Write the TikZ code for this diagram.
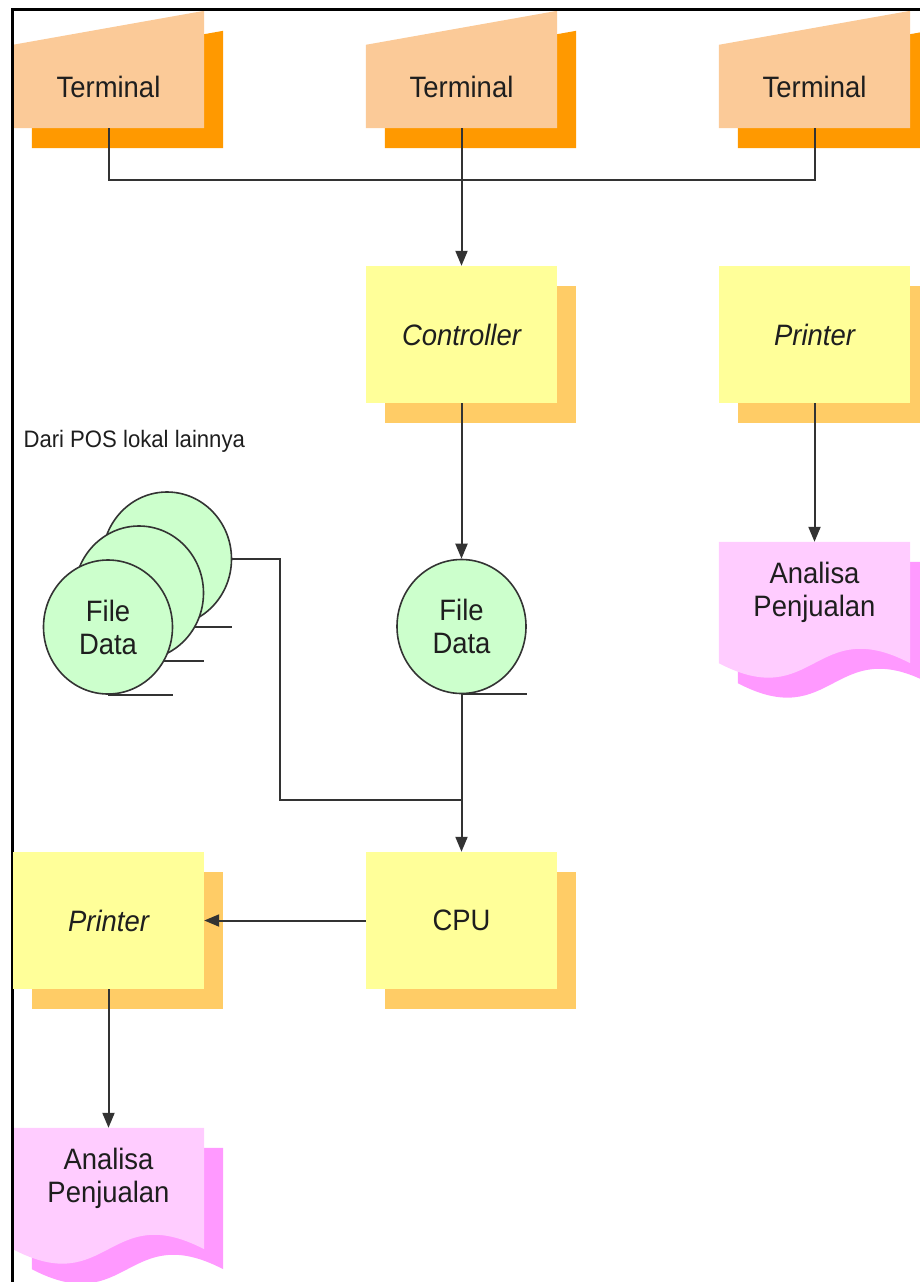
\documentclass[tikz,border=0pt]{standalone}
\usepackage{fontspec}
\setmainfont{Liberation Sans}[FakeStretch=0.93]
\usetikzlibrary{positioning,shapes.geometric,shadows,backgrounds,arrows.meta}

\definecolor{termfill}{HTML}{FBCA98}
\definecolor{termshade}{HTML}{FF9900}
\definecolor{boxfill}{HTML}{FFFF99}
\definecolor{boxshade}{HTML}{FFCC66}
\definecolor{filefill}{HTML}{CCFFCC}
\definecolor{docfill}{HTML}{FFCCFF}
\definecolor{docshade}{HTML}{FF99FF}
\definecolor{ink}{HTML}{1E1E1E}

\begin{document}
\begin{tikzpicture}[x=1pt,y=-1pt,node distance=353pt,on grid,
    font=\fontsize{29.5}{33}\selectfont,text=ink,
    >={Triangle[length=15pt,width=12pt]},
    line/.style={draw=black!80,line width=2pt},
    term/.style={rectangle,minimum width=191pt,minimum height=83pt,inner sep=0pt},
    box/.style={rectangle,fill=boxfill,minimum width=191pt,minimum height=137pt,inner sep=0pt,
      general shadow={shadow xshift=19pt,shadow yshift=-20pt,fill=boxshade}},
    file/.style={ellipse,draw=black!80,line width=1.6pt,fill=filefill,
      minimum width=129pt,minimum height=134pt,inner sep=0pt,align=center},
    doc/.style={rectangle,minimum width=191pt,minimum height=100pt,inner sep=0pt,align=center}]
  \useasboundingbox (0,0) rectangle (920,1282);

  % frame
  \draw[line width=3pt] (12,1290) -- (12,9) -- (930,9);

  \node[term] (term_2) at (461.5,86.5) {Terminal};
  \node[term] (term_1) [left=of term_2] {Terminal};
  \node[term] (term_3) [right=of term_2] {Terminal};
  \node[box] (ctrl) [below=248pt of term_2] {\itshape Controller};
  \node[box] (prn_1) [right=of ctrl] {\itshape Printer};
  \node[doc] (doc_1) [below=257.5pt of prn_1] {Analisa\\Penjualan};
  \node[file] (file_0) [below=292pt of ctrl] {File\\Data};
  \draw[line] (file_0.south) -- (file_0.south -| file_0.east);
  \node[box] (cpu) [below=294pt of file_0] {CPU};
  \node[box] (prn_2) [left=of cpu] {\itshape Printer};
  \node[doc] (doc_2) [below=257.5pt of prn_2] {Analisa\\Penjualan};

  % files coming from the other POS, back to front
  \node[font=\fontsize{23.8}{28}\selectfont,anchor=west] (pos) at (20,441) {Dari POS lokal lainnya};
  \node[file] (file_3) at (167,559) {};
  \draw[line] (file_3.south) -- (file_3.south -| file_3.east);
  \node[file] (file_2) [below left=34pt and 28pt of file_3] {};
  \draw[line] (file_2.south) -- (file_2.south -| file_2.east);
  \node[file] (file_1) [below left=34pt and 31pt of file_2] {File\\Data};
  \draw[line] (file_1.south) -- (file_1.south -| file_1.east);

  % terminal and document outlines, with their shades
  \begin{scope}[on background layer]
    \foreach \n in {term_1,term_2,term_3} {
      \fill[termshade] ([shift={(19,20)}]\n.south west) -- ([shift={(19,20)}]\n.north west)
        -- ([shift={(19,-14)}]\n.north east) -- ([shift={(19,20)}]\n.south east) -- cycle;
      \fill[termfill] (\n.south west) -- (\n.north west)
        -- ([shift={(0,-34)}]\n.north east) -- (\n.south east) -- cycle;
    }
    \foreach \n in {doc_1,doc_2} {
      \fill[docshade] ([shift={(19,20)}]\n.north west) -- ([shift={(19,41)}]\n.south west)
        .. controls ([shift={(114.5,91)}]\n.south west) and ([shift={(114.5,-9)}]\n.south west)
        .. ([shift={(19,41)}]\n.south east) -- ([shift={(19,20)}]\n.north east) -- cycle;
      \fill[docfill] (\n.north west) -- ([shift={(0,21)}]\n.south west)
        .. controls ([shift={(95.5,71)}]\n.south west) and ([shift={(95.5,-29)}]\n.south west)
        .. ([shift={(0,21)}]\n.south east) -- (\n.north east) -- cycle;
    }
  \end{scope}

  \draw[line] (term_1.south) -- ++(0,52) -| (term_3.south);
  \draw[line,->] (term_2.south) -- (ctrl.north);
  \draw[line,->] (ctrl.south) -- (file_0.north);
  \draw[line,->] (prn_1.south) -- (doc_1.north);
  \coordinate (merge) at ([shift={(0,-52)}]cpu.north);
  \draw[line,->] (file_0.south) -- (cpu.north);
  \draw[line] (file_3.east) -- ++(48,0) |- (merge);
  \draw[line,->] (cpu.west) -- (prn_2.east);
  \draw[line,->] (prn_2.south) -- (doc_2.north);
\end{tikzpicture}
\end{document}
